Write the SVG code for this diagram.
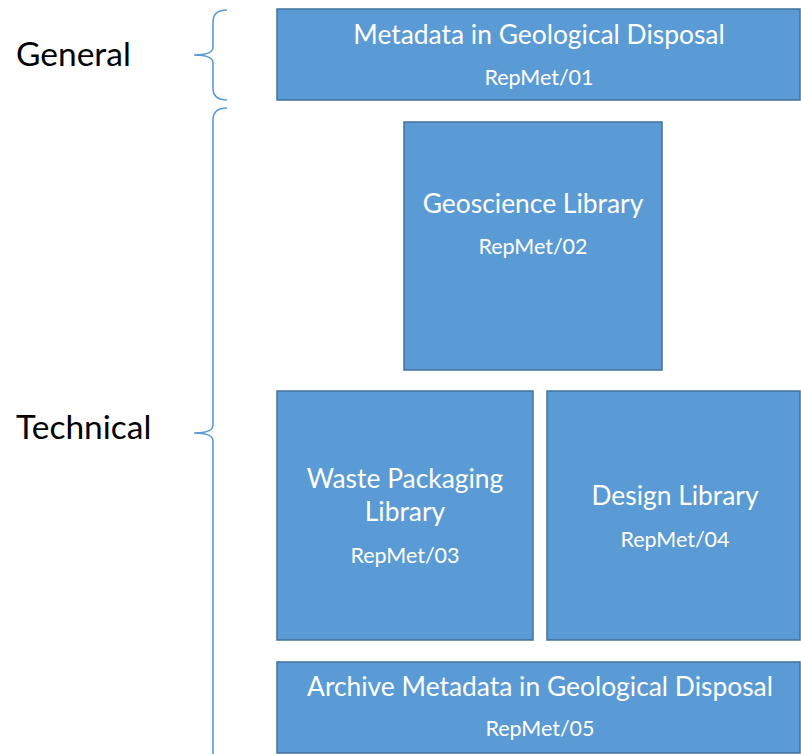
<svg xmlns="http://www.w3.org/2000/svg" width="801" height="754" viewBox="0 0 801 754">
<style>
.box{fill:#5B9BD5;stroke:#41719C;stroke-width:1.5}
.t{font-family:Lato,"Open Sans","Liberation Sans",sans-serif;fill:#fff;text-anchor:middle}
.h{font-size:26.4px}
.s{font-size:21.5px}
.lab{font-family:Lato,"Open Sans","Liberation Sans",sans-serif;font-size:33.5px;fill:#000}
.br{fill:none;stroke:#5B9BD5;stroke-width:1.6}
</style>
<rect width="801" height="754" fill="#fff"/>
<g id="labels">
<text class="lab" x="16" y="66">General</text>
<text class="lab" x="16" y="439">Technical</text>
</g>
<g id="braces">
<path class="br" d="M227,10 Q213,10 213,22 L213,47 Q213,55 194,55 Q213,55 213,63 L213,88 Q213,100 227,100"/>
<path class="br" d="M227,108 Q213,108 213,120 L213,425 Q213,433 194,433 Q213,433 213,441 L213,754"/>
</g>
<g id="n1">
<rect class="box" x="277" y="9" width="523" height="91"/>
<text class="t h" x="539" y="44">Metadata in Geological Disposal</text>
<text class="t s" x="539" y="85">RepMet/01</text>
</g>
<g id="n2">
<rect class="box" x="404" y="122" width="258" height="248"/>
<text class="t h" x="533" y="213">Geoscience Library</text>
<text class="t s" x="533" y="254">RepMet/02</text>
</g>
<g id="n3">
<rect class="box" x="277" y="391" width="256" height="249"/>
<text class="t h" x="405" y="488">Waste Packaging</text>
<text class="t h" x="405" y="521">Library</text>
<text class="t s" x="405" y="563">RepMet/03</text>
</g>
<g id="n4">
<rect class="box" x="547" y="391" width="253" height="249"/>
<text class="t h" x="675" y="505">Design Library</text>
<text class="t s" x="675" y="547">RepMet/04</text>
</g>
<g id="n5">
<rect class="box" x="277" y="662" width="523" height="91"/>
<text class="t h" x="540" y="696">Archive Metadata in Geological Disposal</text>
<text class="t s" x="540" y="736">RepMet/05</text>
</g>
</svg>
